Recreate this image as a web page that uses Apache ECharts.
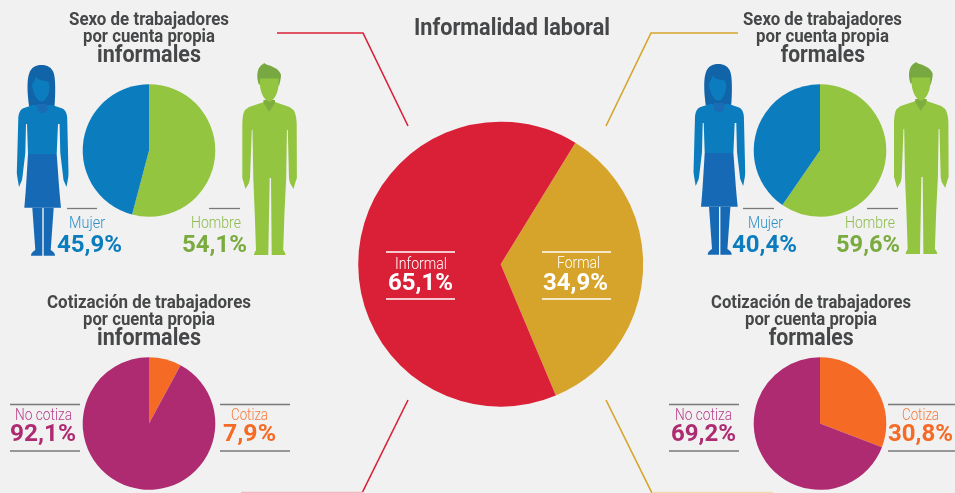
<!DOCTYPE html>
<html><head><meta charset="utf-8">
<style>html,body{margin:0;padding:0;background:#f1f1f1}#c{width:955px;height:493px}</style>
<script src="https://cdn.jsdelivr.net/npm/echarts@6/dist/echarts.min.js"></script>
</head><body><div id="c"></div>
<script>
const mainCats = ['Formal', 'Informal'];
const mainVals = [34.9, 65.1];
const sexCats = ['Hombre', 'Mujer'];
const sexInformal = [54.1, 45.9];
const sexFormal = [59.6, 40.4];
const cotCats = ['Cotiza', 'No cotiza'];
const cotInformal = [7.9, 92.1];
const cotFormal = [30.8, 69.2];
const mainTitle = 'Informalidad laboral';
const sexTitle = 'Sexo de trabajadores';
const cotTitle = 'Cotización de trabajadores';
const subTitle = 'por cuenta propia';
const groupInformal = 'informales';
const groupFormal = 'formales';

const C = {bg:'#f1f1f1', red:'#da2037', gold:'#d6a42a', blue:'#0b7dbe', green:'#93c540', mag:'#ae2b72', org:'#f56a25',
  txt:'#464748', rule:'#77797a', greenTxt:'#7aab3f', blueSoft:'#2f90c8', greenSoft:'#8dbb4f', magSoft:'#b8408a', orgSoft:'#f57a3a'};
const FF = 'Roboto';
const fmt = v => v.toFixed(1).replace('.', ',') + '%';
const ctx = document.createElement('canvas').getContext('2d');
const g = [];
function t(text, x1, x2, yc, size, weight, color) {
  ctx.font = weight + ' ' + size + 'px ' + FF;
  const w = ctx.measureText(text).width;
  g.push({type:'text', silent:true, z:100, x:x1, y:yc, scaleX:(x2-x1)/w,
    style:{text, fontFamily:FF, fontSize:size, fontWeight:weight, fill:color, align:'left', verticalAlign:'middle'}});
}
function rule(x1, x2, y, color, lw) {
  g.push({type:'line', silent:true, z:100, shape:{x1, y1:y, x2, y2:y}, style:{stroke:color||C.rule, lineWidth:lw||1.3}});
}
function poly(points, color) {
  g.push({type:'polyline', silent:true, shape:{points}, style:{stroke:color, lineWidth:1.6, fill:null}});
}
// Flatten a small M/L/C/Z outline into polygons for the graphic component
function outline(d, fill, dx, dy) {
  const tok = d.match(/[MLCZ]|-?[\d.]+/g);
  let i = 0, cur = null, pts = [];
  const num = () => parseFloat(tok[i++]);
  const flush = () => {
    if (pts.length > 2) g.push({type:'polygon', silent:true, x:dx, y:dy, shape:{points:pts}, style:{fill}});
    pts = [];
  };
  let cmd = null;
  while (i < tok.length) {
    if (/[MLCZ]/.test(tok[i])) cmd = tok[i++];
    if (cmd === 'Z') { flush(); cmd = null; continue; }
    if (cmd === 'M') { flush(); cur = [num(), num()]; pts.push(cur); cmd = 'L'; }
    else if (cmd === 'L') { cur = [num(), num()]; pts.push(cur); }
    else if (cmd === 'C') {
      const a = [num(), num()], b = [num(), num()], c = [num(), num()], p = cur;
      for (let k = 1; k <= 8; k++) {
        const s = k / 8, u = 1 - s;
        pts.push([u*u*u*p[0]+3*u*u*s*a[0]+3*u*s*s*b[0]+s*s*s*c[0], u*u*u*p[1]+3*u*u*s*a[1]+3*u*s*s*b[1]+s*s*s*c[1]]);
      }
      cur = c;
    }
  }
  flush();
}

// Woman silhouette
const wHair = 'M29,106 C27,92 27,80 29,74 C31,67 36,65 41.5,65 C47,65 52,67 54,74 C55.5,80 55.5,94 54.5,106 Z';
const wBody = 'M33,105 C38,104 37,108 42.5,108 C48,108 47,104 52,105 L61,108 C65,109 67,113 67.2,118 L68.5,173 L68.3,177 L66.5,187 L63.5,180 L62.9,175 L60.3,153 L59.6,124 L58,124 L56.7,154 L28,154 L27,124 L26,124 L25.3,153 L22.7,175 L22,180 L19,187 L17.3,177 L16.8,173 L18.3,118 C18.5,113 20.5,109 24,108 Z';
const wFace = 'M36,76.5 C38,80.5 44,81 48,81.5 C49.8,84 49.8,90 48.3,94 C46.5,99 44,101.5 41.5,101.5 C38,101.5 35,97 33,90 C32,86 31.5,84 32.5,84 C34,82 35,79 36,76.5 Z';
const wNeck = 'M37,104 L47,104 L48,109 C47,112 45,113 42.5,113 C40,113 38,112 37,109 Z';
const wSkirt = 'M28,154 L56.7,154 C58,170 59,190 61,207.7 L24.3,207.7 C26,190 27,170 28,154 Z';
const wLegs = 'M32.3,207.7 L42.3,207.7 L42.3,250 L42.3,255.7 L31,255.7 C31,253 33,251.5 35.3,250 Z M43.7,207.7 L53.7,207.7 L50.7,250 C53,251.5 55,253 55,255.7 L43.7,255.7 Z';
function woman(dx, dy) {
  outline(wHair, '#1264a8', dx, dy);
  outline(wBody, C.blue, dx, dy);
  outline(wNeck, '#1a6cb5', dx, dy);
  outline(wFace, C.blue, dx, dy);
  outline(wSkirt, '#166ab5', dx, dy);
  outline(wLegs, '#166ab5', dx, dy);
}
// Man silhouette
const mHair = 'M259,85 C256.5,78 257,72 259,68 C261,65 263,64 264.5,63 C266,65 269,65 272,66.5 C276,68 280,71 281,75 C281,78 280,82 279,86 L276,82 L262,82 Z';
const mFace = 'M260,78.5 L278.5,78.5 C279,84 278.5,90 276,95 C274,99 271.5,101.5 269.5,101.5 C267,101.5 264.5,99 262.5,95 C260,90 259.5,84 260,78.5 Z';
const mBody = 'M264,102 L275,102 L289.5,107 L293.5,110 C295.5,113 296.5,118 296.7,124 L296.9,178 L295.5,182 L293.5,189 L290,183 L289,178 L287.8,130 L286.9,130 L286.2,178 L284.5,212 L283.2,250 C284.5,252 285.5,253 285.5,255 L271.7,255 L271,178 L269.7,178 L268.3,255 L254,255 C254,253 255,252 256,250 L254.7,212 L253.3,178 L252.5,130 L251.8,130 L250,178 L249,183 L245.5,189 L243.5,182 L242.3,178 L242.3,124 C242.5,118 243,113 245,110 L249,107 L264,102 Z';
const mNeck = 'M263.5,100 L275,100 L275,103 L269,112 L263.5,103 Z';
function man(dx, dy) {
  outline(mBody, C.green, dx, dy);
  outline(mNeck, '#7fae3f', dx, dy);
  outline(mHair, '#78a842', dx, dy);
  outline(mFace, C.green, dx, dy);
}
woman(0, 0); man(0, 0);
woman(676.7, -1); man(651.7, -1);

// Connectors
poly([[277,33],[363,33],[408,126]], C.red);
poly([[738,33],[651,33],[606,126]], C.gold);
poly([[408,400],[362,493]], C.red);
poly([[606,400],[652,493]], C.gold);
rule(241, 363, 492.5, '#f2b9c1', 1.6);
rule(652, 773, 492.5, '#f0dcb0', 1.6);

// Titles
const S = 19, B = 23;
t(mainTitle, 414, 610, 29, 24, 700, C.txt);
t(sexTitle, 69, 229, 20, S, 700, C.txt);
t(subTitle, 83, 215, 37.5, S, 700, C.txt);
t(groupInformal, 97, 201, 56.5, B, 700, C.txt);
t(sexTitle, 743, 902, 20, S, 700, C.txt);
t(subTitle, 756, 889, 37.5, S, 700, C.txt);
t(groupFormal, 780.7, 865, 56.5, B, 700, C.txt);
t(cotTitle, 47, 251, 303, S, 700, C.txt);
t(subTitle, 83, 215, 320.5, S, 700, C.txt);
t(groupInformal, 97, 201, 339.5, B, 700, C.txt);
t(cotTitle, 711, 911, 303, S, 700, C.txt);
t(subTitle, 745, 877, 320.5, S, 700, C.txt);
t(groupFormal, 768.7, 853.6, 339.5, B, 700, C.txt);

// Big pie labels (drawn above the pie)
const L = 16, V = 23;
rule(386, 455, 252, '#ffffff', 1.5); rule(386, 455, 299, '#ffffff', 1.5);
t(mainCats[1], 395, 447, 264.5, L, 300, '#ffffff');
t(fmt(mainVals[1]), 388, 284, 284, V, 700, '#ffffff');
g.pop();
t(fmt(mainVals[1]), 388, 453, 284, V, 700, '#ffffff');
rule(542, 611, 252, '#ffffff', 1.5); rule(542, 611, 299, '#ffffff', 1.5);
t(mainCats[0], 557, 600, 263.5, L, 300, '#ffffff');
t(fmt(mainVals[0]), 543, 608, 284, V, 700, '#ffffff');

// Sex labels
rule(67, 97, 208.5); rule(209, 240, 208.5);
t(sexCats[1], 69, 105, 224, L, 300, C.blueSoft);
t(fmt(sexInformal[1]), 57, 122, 246.5, V, 700, C.blue);
t(sexCats[0], 191, 241, 224, L, 300, C.greenSoft);
t(fmt(sexInformal[0]), 182, 247, 246.5, V, 700, C.greenTxt);
rule(743, 774, 208.5); rule(867, 898, 208.5);
t(sexCats[1], 748, 783, 224, L, 300, C.blueSoft);
t(fmt(sexFormal[1]), 732, 797, 246, V, 700, C.blue);
t(sexCats[0], 845, 895, 224, L, 300, C.greenSoft);
t(fmt(sexFormal[0]), 836, 900, 246, V, 700, C.greenTxt);

// Cotización labels
rule(10, 80, 404.5); rule(10, 80, 451);
t(cotCats[1], 15, 72, 416, L, 300, C.magSoft);
t(fmt(cotInformal[1]), 10, 76, 435, V, 700, C.mag);
rule(220, 290, 404.5); rule(220, 290, 451);
t(cotCats[0], 231, 268, 416, L, 300, C.orgSoft);
t(fmt(cotInformal[0]), 223, 276, 435, V, 700, C.org);
rule(669, 739, 404.5); rule(669, 739, 451);
t(cotCats[1], 675, 732, 416, L, 300, C.magSoft);
t(fmt(cotFormal[1]), 671, 736, 435, V, 700, C.mag);
rule(888, 955, 404.5); rule(888, 955, 451);
t(cotCats[0], 902, 939, 416, L, 300, C.orgSoft);
t(fmt(cotFormal[0]), 888, 953, 435, V, 700, C.org);

function pie(cats, vals, colors, cx, cy, r, start) {
  return {type:'pie', silent:true, animation:false, center:[cx, cy], radius:[0, r], startAngle:start, clockwise:true,
    label:{show:false}, labelLine:{show:false}, emphasis:{disabled:true},
    data:cats.map((name, i) => ({name, value:vals[i], itemStyle:{color:colors[i]}}))};
}
const chart = echarts.init(document.getElementById('c'), null, {renderer:'canvas'});
chart.setOption({
  backgroundColor:C.bg, animation:false,
  series:[
    pie(mainCats, mainVals, [C.gold, C.red], 500.7, 264.2, 142.5, 58.4),
    pie(sexCats, sexInformal, [C.green, C.blue], 149, 150.5, 66.3, 90),
    pie(sexCats, sexFormal, [C.green, C.blue], 820, 150.5, 66.3, 90),
    pie(cotCats, cotInformal, [C.org, C.mag], 149, 423.5, 66.3, 90),
    pie(cotCats, cotFormal, [C.org, C.mag], 820, 423.5, 66.3, 90)
  ],
  graphic:{elements:g}
});
</script></body></html>
